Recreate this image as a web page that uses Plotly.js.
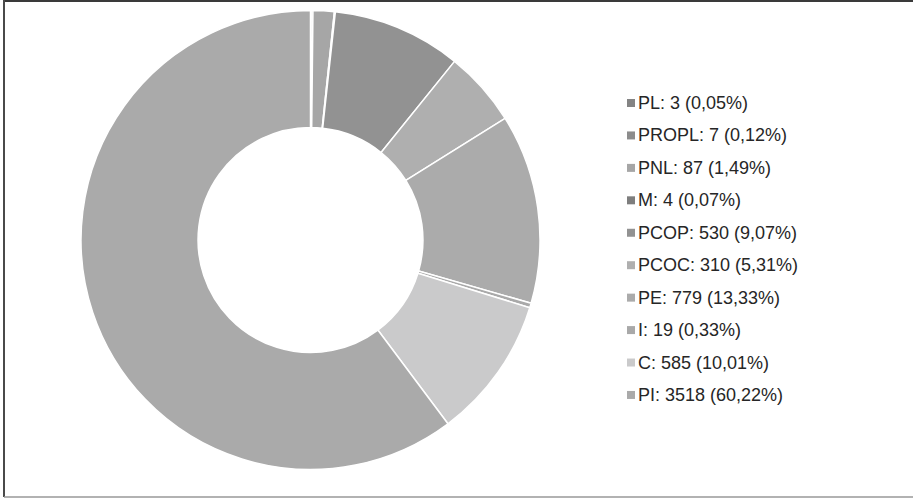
<!DOCTYPE html>
<html>
<head>
<meta charset="utf-8">
<script src="https://cdn.plot.ly/plotly-3.0.1.min.js"></script>
<style>html,body{margin:0;padding:0;background:#fff;}#chart{width:913px;height:499px;}</style>
</head>
<body>
<div id="chart"></div>
<script>
const categories = ["PL", "PROPL", "PNL", "M", "PCOP", "PCOC", "PE", "I", "C", "PI"];
const values = [3, 7, 87, 4, 530, 310, 779, 19, 585, 3518];
const percentLabels = ["0,05%", "0,12%", "1,49%", "0,07%", "9,07%", "5,31%", "13,33%", "0,33%", "10,01%", "60,22%"];
const colors = ["#848484", "#8c8c8c", "#a6a6a6", "#7e7e7e", "#929292", "#afafaf", "#ababab", "#a9a9a9", "#cacacb", "#aaaaaa"];

const W = 913, H = 499;
const legendLabels = categories.map((c, i) => c + ": " + values[i] + " (" + percentLabels[i] + ")");
const rowY = i => 103 + i * 32.44;

const annotations = legendLabels.map((t, i) => ({
  xref: "paper", yref: "paper",
  x: 636 / W, y: 1 - rowY(i) / H,
  xanchor: "left", yanchor: "middle",
  showarrow: false,
  align: "left",
  text: t,
  font: {family: "Liberation Sans, Arial, sans-serif", size: 18, color: "#262626"}
}));

const swatches = colors.map((c, i) => ({
  type: "rect", xref: "paper", yref: "paper",
  x0: 627 / W, x1: 635 / W,
  y0: 1 - (rowY(i) + 4) / H, y1: 1 - (rowY(i) - 4) / H,
  fillcolor: c, line: {width: 0}
}));

const trace = {
  type: "pie",
  labels: categories,
  values: values,
  sort: false,
  direction: "clockwise",
  rotation: 0,
  hole: 0.49,
  textinfo: "none",
  hoverinfo: "label+value+percent",
  marker: {colors: colors, line: {color: "#ffffff", width: 1.5}},
  domain: {x: [(310.5 - 229.5) / W, (310.5 + 229.5) / W], y: [1 - 469.5 / H, 1 - 10.5 / H]},
  showlegend: false
};

const layout = {
  width: W, height: H,
  margin: {l: 0, r: 0, t: 0, b: 0},
  paper_bgcolor: "#ffffff",
  showlegend: false,
  annotations: annotations,
  shapes: swatches.concat([
    {type: "line", xref: "paper", yref: "paper", x0: 3 / W, x1: 1, y0: 1 - 1 / H, y1: 1 - 1 / H, line: {color: "#3a3a3a", width: 2}},
    {type: "line", xref: "paper", yref: "paper", x0: 4 / W, x1: 4 / W, y0: 1 - 497 / H, y1: 1, line: {color: "#4a4a4a", width: 2}},
    {type: "line", xref: "paper", yref: "paper", x0: 4 / W, x1: 1, y0: 1 - 497 / H, y1: 1 - 497 / H, line: {color: "#999999", width: 1.5}}
  ])
};

Plotly.newPlot("chart", [trace], layout, {displayModeBar: false, staticPlot: true});
</script>
</body>
</html>
